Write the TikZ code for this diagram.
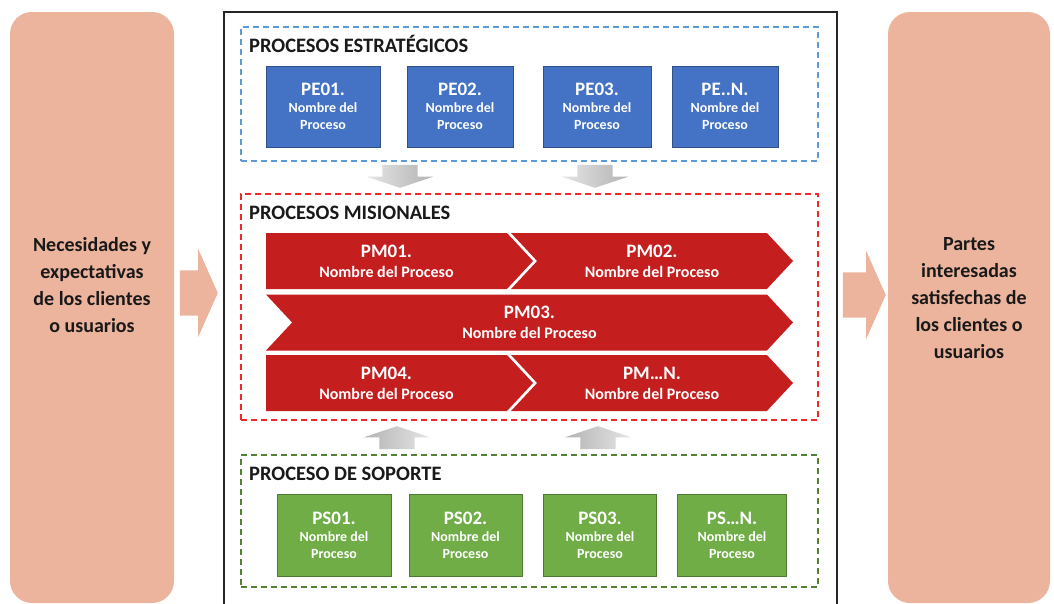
\documentclass[tikz,border=0pt]{standalone}
\usepackage{fontspec}
\setmainfont{Carlito}
\usepackage{tikz}
\usetikzlibrary{shapes.arrows,shapes.symbols,positioning}

\definecolor{sidesalmon}{RGB}{236,179,157}
\definecolor{peblue}{RGB}{68,114,196}
\definecolor{pmred}{RGB}{196,30,31}
\definecolor{psgreen}{RGB}{112,173,71}
\definecolor{dashblue}{RGB}{91,155,213}
\definecolor{dashred}{RGB}{240,40,40}
\definecolor{dashgreen}{RGB}{84,130,53}

\newcommand{\proclabel}[1]{{\fontsize{19}{19}\selectfont #1}\\Nombre del\\Proceso}
\newcommand{\chevlabel}[1]{{\fontsize{19}{19}\selectfont #1}\\Nombre del Proceso}

\tikzset{
  sidebox/.style={rectangle, rounded corners=22pt, fill=sidesalmon, minimum width=164pt, minimum height=591pt, inner sep=0pt},
  sidetext/.style={align=center, font=\fontsize{20}{27}\selectfont\bfseries, text=black!90},
  bigarrow/.style={single arrow, fill=sidesalmon, minimum width=88pt, minimum height=38pt, single arrow head extend=21.5pt, single arrow tip angle=132, inner xsep=0pt, inner ysep=22.5pt, anchor=tip},
  grayarrow/.style={single arrow, minimum width=66pt, minimum height=23pt, single arrow head extend=15.5pt, single arrow tip angle=143, inner xsep=0pt, inner ysep=17.5pt, anchor=tip},
  mainframe/.style={rectangle, draw=black!85, line width=1.4pt, minimum width=613pt, minimum height=616pt, inner sep=0pt},
  groupbox/.style={rectangle, line width=1.5pt, dash pattern=on 6pt off 4pt, minimum width=577pt, inner sep=0pt},
  grouptitle/.style={anchor=west, inner sep=0pt, font=\fontsize{20.5}{20.5}\selectfont\bfseries, text=black!90},
  pebox/.style={rectangle, fill=peblue, draw=peblue!70!black, line width=0.8pt, text=white, align=center, minimum height=81pt, inner sep=0pt, font=\fontsize{14}{17}\selectfont\bfseries},
  psbox/.style={pebox, fill=psgreen, draw=psgreen!70!black, minimum height=82pt},
  pmchev/.style={signal, signal to=east, signal pointer angle=94, fill=pmred, text=white, align=center, minimum height=56pt, inner sep=0pt, font=\fontsize{16}{20}\selectfont\bfseries}
}

\begin{document}
\begin{tikzpicture}[x=1pt,y=-1pt]
  \useasboundingbox (0,0) rectangle (1054,603);

  % Side boxes
  \node[sidebox] (leftBox) at (92,307.5) {};
  \node[sidetext] (needsText) at (92,285) {Necesidades y\\expectativas\\de los clientes\\o usuarios};
  \node[sidebox, minimum width=162pt] (rightBox) at (969,307.5) {};
  \node[sidetext] (outText) at (969,298) {Partes\\interesadas\\satisfechas de\\los clientes o\\usuarios};

  % Main frame
  \node[mainframe] (frame) at (530.5,320) {};

  % Big arrows in and out
  \node[bigarrow] (inArrow) at (218,293) {};
  \node[bigarrow, minimum height=43pt] (outArrow) at (886,295) {};

  %%% Strategic processes
  \node[groupbox, draw=dashblue, minimum height=134pt] (stratGroup) at (529.5,94) {};
  \node[grouptitle] (stratTitle) at (249,44) {PROCESOS ESTRATÉGICOS};
  \node[pebox, minimum width=114pt] (pe1) at (323,106.5) {\proclabel{PE01.}};
  \node[pebox, minimum width=106pt] (pe2) at (460,106.5) {\proclabel{PE02.}};
  \node[pebox, minimum width=108pt] (pe3) at (597,106.5) {\proclabel{PE03.}};
  \node[pebox, minimum width=106pt] (pe4) at (725,106.5) {\proclabel{PE..N.}};

  % Arrows down
  \node[grayarrow, rotate=-90, left color=black!10, right color=black!30] (downA) at (400,188) {};
  \node[grayarrow, rotate=-90, left color=black!10, right color=black!30] (downB) at (595,188) {};

  %%% Mission processes
  \node[groupbox, draw=dashred, minimum height=226pt] (missGroup) at (529.5,307) {};
  \node[grouptitle] (missTitle) at (249,213) {PROCESOS MISIONALES};
  \node[pmchev, minimum width=267pt] (pm1) at (386.5,261) {\chevlabel{PM01.}};
  \node[pmchev, signal from=west, minimum width=282pt] (pm2) at (652,261) {\chevlabel{PM02.}};
  \node[pmchev, signal from=west, minimum width=527pt] (pm3) at (529.5,322.5) {\chevlabel{PM03.}};
  \node[pmchev, minimum width=267pt] (pm4) at (386.5,383) {\chevlabel{PM04.}};
  \node[pmchev, signal from=west, minimum width=282pt] (pm5) at (652,383) {\chevlabel{PM…N.}};

  % Arrows up
  \node[grayarrow, rotate=90, left color=black!30, right color=black!10] (upA) at (397,426) {};
  \node[grayarrow, rotate=90, left color=black!30, right color=black!10] (upB) at (598,426) {};

  %%% Support processes
  \node[groupbox, draw=dashgreen, minimum height=132pt] (supGroup) at (529.5,521) {};
  \node[grouptitle] (supTitle) at (249,474) {PROCESO DE SOPORTE};
  \node[psbox, minimum width=114pt] (ps1) at (334,535) {\proclabel{PS01.}};
  \node[psbox, minimum width=113pt] (ps2) at (465.5,535) {\proclabel{PS02.}};
  \node[psbox, minimum width=113pt] (ps3) at (600,535) {\proclabel{PS03.}};
  \node[psbox, minimum width=109pt] (ps4) at (732,535) {\proclabel{PS…N.}};
\end{tikzpicture}
\end{document}
